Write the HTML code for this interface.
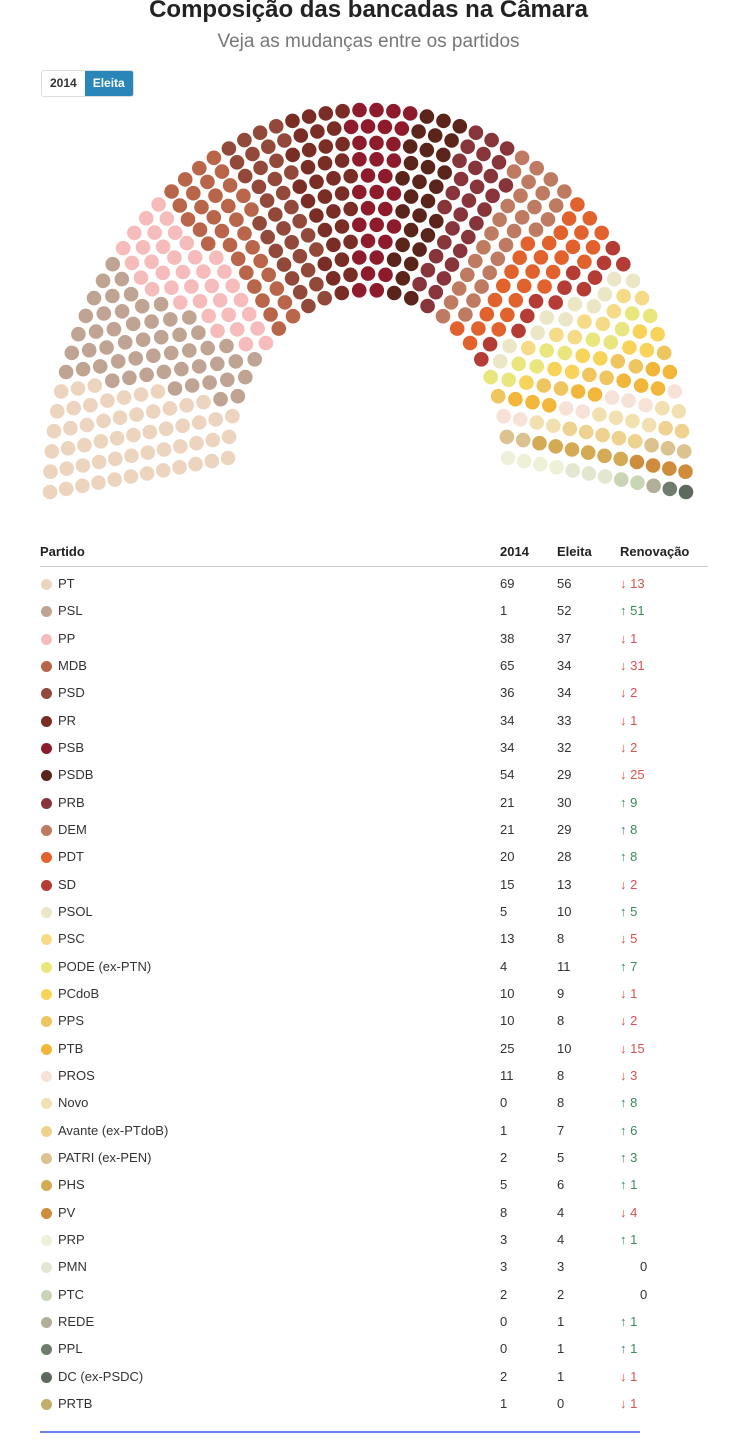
<!DOCTYPE html>
<html><head><meta charset="utf-8">
<style>
body{margin:0;background:#fff;width:737px;height:1449px;overflow:hidden;font-family:"Liberation Sans",sans-serif;color:#333;position:relative}
.t{position:absolute;left:0;width:737px;text-align:center}
#title{top:-4px;font-size:24px;font-weight:bold;color:#222}
#sub{top:31px;font-size:19px;color:#777}
#btn{position:absolute;left:41px;top:70px;height:25px;border:1px solid #ddd;border-radius:3px;display:flex;font-size:12px;font-weight:bold;overflow:hidden}
#btn span{display:block;padding:0 8px;line-height:25px}
#btn .on{background:#2a86b9;color:#fff}
#sv{position:absolute;left:0;top:0;width:737px;height:520px}
.row{position:absolute;left:40px;width:668px;height:20px;font-size:13px;line-height:20px}
.row span{position:absolute}
.dot{width:11px;height:11px;border-radius:50%;left:1px;top:5px}
.n{left:18px}.a{left:460px}.b{left:517px}.c{left:580px}
.up{color:#3c8a5a}.dn{color:#d9534f}
.h{font-weight:bold;color:#222}
#hl{position:absolute;left:40px;top:566px;width:668px;height:1px;background:#ccc}
#bl{position:absolute;left:40px;top:1431px;width:600px;height:2px;background:#6680e8}
</style></head><body>
<div class="t" id="title">Composição das bancadas na Câmara</div>
<div class="t" id="sub">Veja as mudanças entre os partidos</div>
<div id="btn"><span>2014</span><span class="on">Eleita</span></div>
<div id="sv"></div>
<div class="row h" style="top:542px"><span class="n" style="left:0">Partido</span><span class="a">2014</span><span class="b">Eleita</span><span class="c">Renovação</span></div>
<div id="hl"></div>
<div id="tb"></div>
<div id="bl"></div>
<script>
(function(){
var P=[["PT","#ecd4bf",69,56],["PSL","#bfa393",1,52],["PP","#f5bcbb",38,37],["MDB","#b8654a",65,34],["PSD","#93493a",36,34],["PR","#7a2d25",34,33],["PSB","#8e1b2c",34,32],["PSDB","#5a241b",54,29],["PRB","#87343a",21,30],["DEM","#bf7b61",21,29],["PDT","#e2622d",20,28],["SD","#b43c35",15,13],["PSOL","#ebe6c6",5,10],["PSC","#f6db86",13,8],["PODE (ex-PTN)","#e9e67e",4,11],["PCdoB","#f7d35a",10,9],["PPS","#efc55f",10,8],["PTB","#f2b73a",25,10],["PROS","#f6e2d6",11,8],["Novo","#f2e1b0",0,8],["Avante (ex-PTdoB)","#efd28f",1,7],["PATRI (ex-PEN)","#dcc28e",2,5],["PHS","#d4aa55",5,6],["PV","#cf8c3c",8,4],["PRP","#eef0d8",3,4],["PMN","#e4e7cf",3,3],["PTC","#c9d5b5",2,2],["REDE","#b3ae97",0,1],["PPL","#6f7c6c",0,1],["DC (ex-PSDC)","#5c695c",2,1],["PRTB","#c3ad6a",1,0]];
var h='';
for(var i=0;i<P.length;i++){var p=P[i];var d=p[3]-p[2];var r=d>0?'<span class="c up">↑ '+d+'</span>':(d<0?'<span class="c dn">↓ '+(-d)+'</span>':'<span class="c" style="left:600px">0</span>');
h+='<div class="row" style="top:'+(574+i*27.33)+'px"><span class="dot" style="background:'+p[1]+'"></span><span class="n">'+p[0]+'</span><span class="a">'+p[2]+'</span><span class="b">'+p[3]+'</span>'+r+'</div>';}
document.getElementById('tb').innerHTML=h;
var rows=[],tot=0,N=513,cx=368;
for(var i=0;i<12;i++){var rx=140+i*178/11,tp=290-i*180/11,cyy=458+i*34/11,ry=cyy-tp;var L=Math.PI*Math.sqrt((rx*rx+ry*ry)/2);rows.push({rx:rx,ry:ry,cy:cyy,L:L});tot+=L;}
var cnt=[],s=0;
for(var i=0;i<12;i++){cnt.push(Math.floor(rows[i].L/tot*N));s+=cnt[i];}
var fr=[];for(var i=0;i<12;i++)fr.push([rows[i].L/tot*N-cnt[i],i]);
fr.sort(function(a,b){return b[0]-a[0]});
for(var k=0;k<N-s&&k<12;k++)cnt[fr[k][1]]++;
var seats=[];
for(var i=0;i<12;i++){var rr=rows[i],n=cnt[i];for(var j=0;j<n;j++){var t=n>1?j/(n-1):0.5;var a=t*Math.PI;seats.push({t:t,i:i,x:cx-rr.rx*Math.cos(a),y:rr.cy-rr.ry*Math.sin(a)});}}
seats.sort(function(a,b){return (a.t-b.t)||(a.i-b.i)});
var svg='<svg width="737" height="520">',idx=0;
for(var m=0;m<P.length;m++){var p=P[m];for(var k=0;k<p[3];k++){var q=seats[idx++];if(!q)continue;svg+='<circle cx="'+q.x.toFixed(1)+'" cy="'+q.y.toFixed(1)+'" r="7.3" fill="'+p[1]+'"/>';}}
svg+='</svg>';
document.getElementById('sv').innerHTML=svg;
})();
</script>
</body></html>
